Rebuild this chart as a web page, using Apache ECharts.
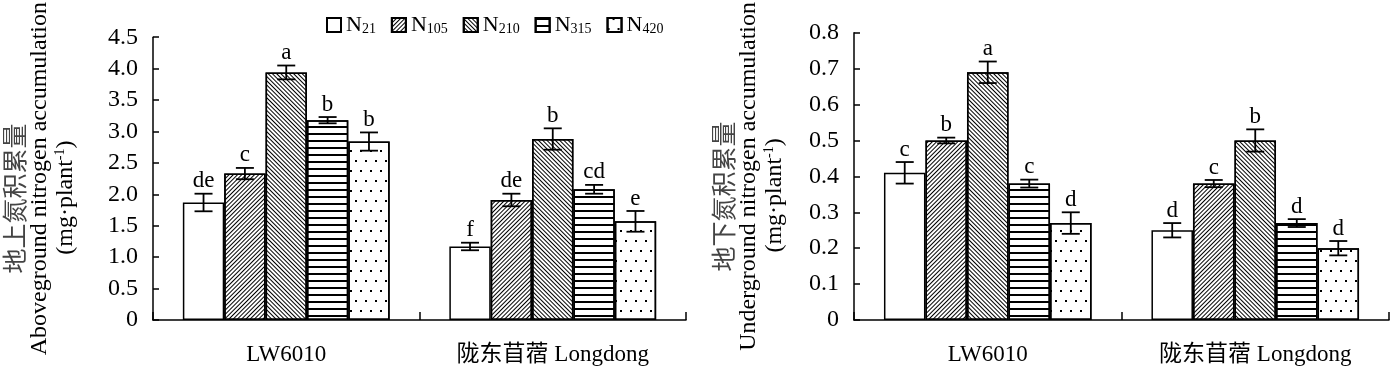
<!DOCTYPE html>
<html>
<head>
<meta charset="utf-8">
<script src="https://cdn.jsdelivr.net/npm/echarts@6/dist/echarts.min.js"></script>
<style>
html,body{margin:0;padding:0;background:#fff;}
#c{width:1391px;height:367px;}
</style>
</head>
<body>
<div id="c"></div>
<script>
// ---- data ----
var categories = ['LW6010', '陇东苜蓿 Longdong'];
var treatments = ['N21', 'N105', 'N210', 'N315', 'N420'];

// Aboveground nitrogen accumulation (mg·plant-1): rows = treatment, cols = category
var aboveValues = [
  [1.87, 1.17],
  [2.33, 1.91],
  [3.94, 2.88],
  [3.18, 2.08],
  [2.84, 1.57]
];
var aboveErrors = [
  [0.14, 0.06],
  [0.09, 0.10],
  [0.11, 0.17],
  [0.05, 0.07],
  [0.145, 0.165]
];
var aboveLetters = [
  ['de', 'f'],
  ['c', 'de'],
  ['a', 'b'],
  ['b', 'cd'],
  ['b', 'e']
];

// Underground nitrogen accumulation
var belowValues = [
  [0.41, 0.25],
  [0.50, 0.38],
  [0.69, 0.50],
  [0.38, 0.27],
  [0.27, 0.20]
];
var belowErrors = [
  [0.03, 0.02],
  [0.008, 0.01],
  [0.03, 0.031],
  [0.011, 0.011],
  [0.03, 0.02]
];
var belowLetters = [
  ['c', 'd'],
  ['b', 'c'],
  ['a', 'b'],
  ['c', 'd'],
  ['d', 'd']
];

var aboveTicks = {min: 0, max: 4.5, interval: 0.5};
var belowTicks = {min: 0, max: 0.8, interval: 0.1};

// ---- styles ----
var SERIF = "'Liberation Serif','Times New Roman','Noto Sans CJK SC',serif";
var BAR_CAT_GAP = 0.224;
var decals = [
  null,
  {symbol: 'rect', color: '#000', dashArrayX: [1, 0], dashArrayY: [1, 2], rotation: -Math.PI / 4, symbolKeepAspect: false},
  {symbol: 'rect', color: '#000', dashArrayX: [1, 0], dashArrayY: [1, 2], rotation: Math.PI / 4, symbolKeepAspect: false},
  {symbol: 'rect', color: '#000', dashArrayX: [1, 0], dashArrayY: [2, 5], rotation: 0, symbolKeepAspect: false},
  {symbol: 'rect', color: '#000', dashArrayX: [[2, 8], [0, 5, 2, 3]], dashArrayY: [2, 8], rotation: 0, symbolKeepAspect: false}
];

function barSeries(gi, ti, values) {
  var it = {color: '#fff', borderColor: '#000', borderWidth: 1.5};
  if (decals[ti]) it.decal = decals[ti];
  return {
    type: 'bar', name: treatments[ti], xAxisIndex: gi, yAxisIndex: gi,
    barGap: '0%', barCategoryGap: (BAR_CAT_GAP * 100) + '%',
    itemStyle: it, emphasis: {disabled: true}, silent: true,
    data: values[ti]
  };
}

function errSeries(gi, ti, values, errors, letters) {
  var data = values[ti].map(function (v, i) { return [i, v, errors[ti][i], letters[ti][i]]; });
  return {
    type: 'custom', name: 'err' + gi + '_' + ti, xAxisIndex: gi, yAxisIndex: gi, silent: true, z: 5,
    data: data,
    renderItem: function (params, api) {
      var ci = api.value(0), v = api.value(1), e = api.value(2);
      var lab = data[params.dataIndex][3];
      var c = api.coord([ci, v]);
      var catW = api.size([1, 0])[0];
      var bw = catW * (1 - BAR_CAT_GAP) / treatments.length;
      var x = c[0] + (ti - (treatments.length - 1) / 2) * bw;
      var yt = api.coord([ci, v + e])[1];
      var yb = api.coord([ci, v - e])[1];
      var cap = 9;
      var ls = {stroke: '#000', lineWidth: 1.8};
      return {
        type: 'group',
        children: [
          {type: 'line', shape: {x1: x, y1: yt, x2: x, y2: yb}, style: ls},
          {type: 'line', shape: {x1: x - cap, y1: yt, x2: x + cap, y2: yt}, style: ls},
          {type: 'line', shape: {x1: x - cap, y1: yb, x2: x + cap, y2: yb}, style: ls},
          {type: 'text', x: x, y: yt - 1, style: {text: lab, fill: '#000', font: '23px ' + SERIF, textAlign: 'center', textVerticalAlign: 'bottom'}}
        ]
      };
    }
  };
}

function yFmt(v) { return v === 0 ? '0' : v.toFixed(1); }

var axisLine = {lineStyle: {color: '#000', width: 1.5}};
var axisTick = {inside: true, length: 6, lineStyle: {color: '#000', width: 1.5}};

function yAxis(gi, ticks, name, gap) {
  return {
    type: 'value', gridIndex: gi, min: ticks.min, max: ticks.max, interval: ticks.interval,
    axisLine: {show: true, lineStyle: axisLine.lineStyle}, axisTick: {show: true, inside: true, length: 6, lineStyle: axisTick.lineStyle},
    splitLine: {show: false},
    axisLabel: {formatter: yFmt, color: '#000', fontFamily: SERIF, fontSize: 24, margin: 15},
    name: name, nameLocation: 'middle', nameRotate: 90, nameGap: gap,
    nameTextStyle: {
      color: '#000', fontFamily: SERIF, fontSize: 24, lineHeight: 26,
      rich: {
        zh: {fontFamily: "'Noto Sans CJK SC'", fontSize: 25, color: '#444', lineHeight: 26, padding: [0, 40, 0, 0]},
        en: {fontFamily: SERIF, fontSize: 24, color: '#000', lineHeight: 26},
        enp: {fontFamily: SERIF, fontSize: 24, color: '#000', lineHeight: 26, padding: [0, 38, 0, 0]},
        sup: {fontFamily: SERIF, fontSize: 14, color: '#000', verticalAlign: 'top', lineHeight: 14}
      }
    }
  };
}

function xAxis(gi) {
  return {
    type: 'category', gridIndex: gi, data: categories,
    axisLine: axisLine, axisTick: {show: true, inside: true, length: 8, interval: 0, lineStyle: axisTick.lineStyle},
    axisLabel: {color: '#000', fontFamily: SERIF, fontSize: 23, margin: 23, interval: 0}
  };
}

var series = [];
for (var t = 0; t < treatments.length; t++) series.push(barSeries(0, t, aboveValues));
for (var t2 = 0; t2 < treatments.length; t2++) series.push(barSeries(1, t2, belowValues));
for (var t3 = 0; t3 < treatments.length; t3++) series.push(errSeries(0, t3, aboveValues, aboveErrors, aboveLetters));
for (var t4 = 0; t4 < treatments.length; t4++) series.push(errSeries(1, t4, belowValues, belowErrors, belowLetters));

var option = {
  animation: false,
  backgroundColor: '#fff',
  legend: {
    data: treatments, left: 321, top: 9, itemWidth: 14, itemHeight: 14, itemGap: 15, itemTextGap: 6,
    icon: 'rect', selectedMode: false,
    formatter: function (n) { return '{n|N}{s|' + n.slice(1) + '}'; },
    textStyle: {
      color: '#000', fontFamily: SERIF, fontSize: 21,
      rich: {
        n: {fontFamily: SERIF, fontSize: 22, color: '#000', lineHeight: 22},
        s: {fontFamily: SERIF, fontSize: 14, color: '#000', verticalAlign: 'bottom', lineHeight: 14}
      }
    }
  },
  grid: [
    {left: 152, right: 705, top: 12, bottom: 47},
    {left: 854, right: 2, top: 12, bottom: 47}
  ],
  xAxis: [xAxis(0), xAxis(1)],
  yAxis: [
    yAxis(0, aboveTicks, '{zh|地上氮积累量}\n{en|Aboveground nitrogen accumulation}\n{en|(mg·plant}{sup|-1}{enp|)}', 74),
    yAxis(1, belowTicks, '{zh|地下氮积累量}\n{en|Underground nitrogen accumulation}\n{en|(mg·plant}{sup|-1}{enp|)}', 66)
  ],
  series: series
};

var chart = echarts.init(document.getElementById('c'), null, {renderer: 'canvas'});
chart.setOption(option);
</script>
</body>
</html>
